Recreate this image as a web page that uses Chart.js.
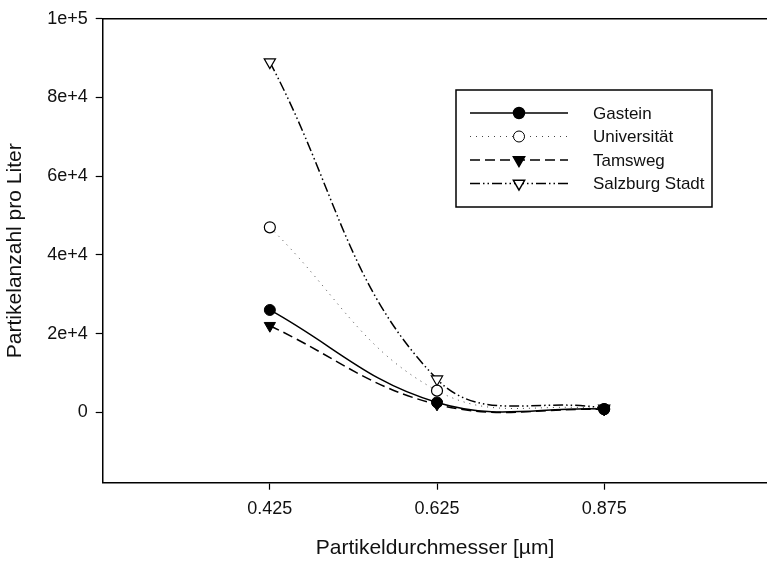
<!DOCTYPE html>
<html>
<head>
<meta charset="utf-8">
<script src="https://cdn.jsdelivr.net/npm/chart.js@4/dist/chart.umd.min.js"></script>
<style>
  html, body { margin: 0; padding: 0; background: #fff; overflow: hidden; }
  #wrap { position: relative; width: 775px; height: 562px; }
</style>
</head>
<body>
<div id="wrap"><canvas id="particleChart"></canvas></div>
<script>
// particle diameters (µm), evenly spaced categories on the x axis
const sizes = ['0.425', '0.625', '0.875'];

// particles per litre at each site
const gastein = [26000, 2500, 800];
const universitaet = [47000, 5500, 800];
const tamsweg = [22000, 2000, 700];
const salzburg = [89000, 8400, 1000];

const siteNames = ['Gastein', 'Universität', 'Tamsweg', 'Salzburg Stadt'];
const yTicks = [0, 20000, 40000, 60000, 80000, 100000];

Chart.defaults.font.family = '"Liberation Sans", Arial, sans-serif';
Chart.defaults.color = '#111';

const toPoints = (values) => values.map((v, i) => ({ x: i + 1, y: v }));

// frame top edge and the boxed legend with line samples
const frameAndLegend = {
  id: 'frameAndLegend',
  afterDraw(chart) {
    const { ctx, chartArea } = chart;
    ctx.save();
    ctx.strokeStyle = '#000';
    ctx.lineWidth = 1.5;
    ctx.beginPath();
    ctx.moveTo(chartArea.left, chartArea.top);
    ctx.lineTo(chartArea.right, chartArea.top);
    ctx.stroke();

    // legend box
    const box = { left: 456, top: 90, right: 712, bottom: 207 };
    ctx.strokeRect(box.left, box.top, box.right - box.left, box.bottom - box.top);

    chart.data.datasets.forEach((ds, i) => {
      const y = 113 + i * 23.5;
      ctx.strokeStyle = ds.borderColor;
      ctx.lineWidth = ds.borderWidth;
      ctx.setLineDash(ds.borderDash || []);
      ctx.beginPath();
      ctx.moveTo(470, y);
      ctx.lineTo(568, y);
      ctx.stroke();
      ctx.setLineDash([]);

      ctx.fillStyle = ds.pointBackgroundColor;
      ctx.strokeStyle = ds.pointBorderColor;
      Chart.helpers.drawPoint(ctx, {
        pointStyle: ds.pointStyle,
        rotation: ds.pointRotation || 0,
        radius: ds.pointRadius,
        borderWidth: ds.pointBorderWidth
      }, 519, y);

      ctx.fillStyle = '#111';
      ctx.font = '17px "Liberation Sans", Arial, sans-serif';
      ctx.textAlign = 'left';
      ctx.textBaseline = 'middle';
      ctx.fillText(ds.label, 593, y + 1);
    });
    ctx.restore();
  }
};

new Chart(document.getElementById('particleChart'), {
  type: 'line',
  data: {
    datasets: [
      {
        label: siteNames[0],
        data: toPoints(gastein),
        borderColor: '#000',
        borderWidth: 1.5,
        pointStyle: 'circle',
        pointRadius: 5.5,
        pointBackgroundColor: '#000',
        pointBorderColor: '#000',
        pointBorderWidth: 1
      },
      {
        label: siteNames[1],
        data: toPoints(universitaet),
        borderColor: '#444',
        borderWidth: 1,
        borderDash: [1, 5],
        pointStyle: 'circle',
        pointRadius: 5.5,
        pointBackgroundColor: '#fff',
        pointBorderColor: '#000',
        pointBorderWidth: 1.2
      },
      {
        label: siteNames[2],
        data: toPoints(tamsweg),
        borderColor: '#000',
        borderWidth: 1.5,
        borderDash: [10, 5],
        pointStyle: 'triangle',
        pointRotation: 180,
        pointRadius: 6.5,
        pointBackgroundColor: '#000',
        pointBorderColor: '#000',
        pointBorderWidth: 1
      },
      {
        label: siteNames[3],
        data: toPoints(salzburg),
        borderColor: '#000',
        borderWidth: 1.5,
        borderDash: [10, 3, 1.5, 3, 1.5, 3],
        pointStyle: 'triangle',
        pointRotation: 180,
        pointRadius: 6.5,
        pointBackgroundColor: '#fff',
        pointBorderColor: '#000',
        pointBorderWidth: 1.2
      }
    ]
  },
  options: {
    responsive: true,
    maintainAspectRatio: false,
    animation: false,
    tension: 0.4,
    layout: { padding: { top: 14, right: 0, bottom: 0, left: 0 } },
    plugins: {
      legend: { display: false },
      tooltip: { enabled: false }
    },
    scales: {
      x: {
        type: 'linear',
        min: 0,
        max: 3.976,
        afterBuildTicks: (scale) => {
          scale.ticks = sizes.map((_, i) => ({ value: i + 1 }));
        },
        afterFit: (scale) => {
          scale.height = 79.3;
          scale.paddingLeft = 0;
          scale.paddingRight = 0;
        },
        grid: {
          drawOnChartArea: false,
          drawTicks: true,
          tickLength: 7,
          tickColor: '#000',
          tickWidth: 1.2
        },
        border: { color: '#000', width: 1.5 },
        ticks: {
          padding: 9,
          maxRotation: 0,
          font: { size: 18 },
          callback: (value) => sizes[Math.round(value) - 1] || ''
        },
        title: {
          display: true,
          text: 'Partikeldurchmesser [µm]',
          font: { size: 21 },
          color: '#111',
          padding: { top: 0, bottom: 1 }
        }
      },
      y: {
        min: -17900,
        max: 100000,
        afterBuildTicks: (scale) => {
          scale.ticks = yTicks.map((v) => ({ value: v }));
        },
        afterFit: (scale) => { scale.width = 102.7; },
        grid: {
          drawOnChartArea: false,
          drawTicks: true,
          tickLength: 7,
          tickColor: '#000',
          tickWidth: 1.2
        },
        border: { color: '#000', width: 1.5 },
        ticks: {
          padding: 8,
          font: { size: 18 },
          callback: (value) => value === 0 ? '0' : value.toExponential()
        },
        title: {
          display: true,
          text: 'Partikelanzahl pro Liter',
          font: { size: 21 },
          color: '#111',
          padding: { top: 3, bottom: 0 }
        }
      }
    }
  },
  plugins: [frameAndLegend]
});
</script>
</body>
</html>
